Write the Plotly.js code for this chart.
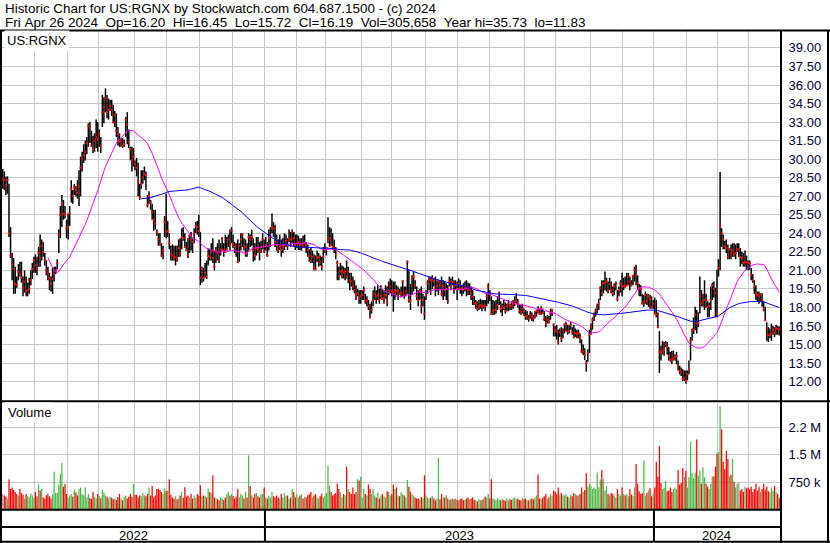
<!DOCTYPE html>
<html><head><meta charset="utf-8">
<script src="https://cdn.plot.ly/plotly-3.0.1.min.js"></script>
<style>html,body{margin:0;padding:0;background:#fff;}#chart{width:830px;height:543px;}</style>
</head><body><div id="chart"></div>
<script>
// ---- data (daily bars) ----
const startDate = '2022-05-02';
const holidays = ['2022-05-30','2022-06-20','2022-07-04','2022-09-05','2022-11-24','2022-12-26',
 '2023-01-02','2023-01-16','2023-02-20','2023-04-07','2023-05-29','2023-06-19','2023-07-04','2023-09-04','2023-11-23','2023-12-25',
 '2024-01-01','2024-01-15','2024-02-19','2024-03-29'];

const closes = [
28.4,28.3,27.8,28.3,24.0,22.2,21.5,21.1,19.9,19.8,
20.9,20.7,20.4,19.6,20.1,19.3,19.4,19.5,20.2,21.1,
21.8,21.4,21.1,22.4,22.0,23.0,22.5,21.8,21.0,20.8,
20.4,19.9,20.3,20.7,21.0,21.6,23.9,25.5,26.4,25.6,
25.5,24.4,24.5,25.6,27.6,27.0,27.7,27.5,27.3,27.8,
29.3,30.0,30.3,30.6,31.3,32.7,32.5,31.1,30.8,31.5,
31.8,31.6,32.0,31.1,33.8,34.2,34.9,33.8,34.0,34.3,
34.0,33.0,33.6,32.3,32.0,31.4,31.5,31.1,31.2,33.2,
32.8,31.4,30.8,29.9,30.2,29.6,29.3,28.2,26.9,28.0,
28.5,28.8,28.7,26.3,27.0,26.5,25.7,25.1,24.8,24.05,
23.5,23.1,22.2,22.6,24.9,24.1,24.2,23.2,22.3,22.2,
22.0,22.1,21.9,22.8,22.4,23.7,23.6,22.9,22.65,22.2,
23.8,23.5,23.3,24.0,24.6,24.5,24.2,20.4,21.1,20.4,
20.8,20.5,22.2,22.1,22.5,22.0,21.3,22.6,22.4,21.8,
22.7,23.6,22.6,22.5,22.7,23.5,23.1,24.2,23.1,22.9,
22.5,21.7,23.0,23.5,23.9,22.8,22.9,22.4,23.7,23.5,
23.7,22.6,22.2,22.8,22.7,22.5,22.9,23.5,22.6,23.05,
22.2,23.6,23.7,24.5,24.4,23.3,23.05,22.7,22.9,22.65,
22.9,23.05,23.4,23.0,23.6,23.5,24.1,23.6,23.05,23.2,
23.3,23.05,23.1,22.95,23.2,23.0,22.65,22.2,21.8,22.1,
21.2,21.1,22.0,22.1,21.7,21.3,22.1,22.6,22.8,23.45,
23.6,23.05,22.9,22.8,22.3,21.6,20.5,20.9,21.0,20.8,
20.9,20.5,20.9,20.2,20.1,19.7,19.4,19.0,19.15,18.7,
18.9,19.0,19.4,18.5,18.6,18.1,17.25,17.8,18.6,19.1,
18.9,19.0,18.6,18.9,18.7,18.75,19.0,18.4,19.4,19.7,
19.3,19.2,19.4,19.3,19.35,19.1,19.2,20.1,19.0,19.3,
21.7,18.6,18.5,20.35,20.5,19.8,18.9,18.6,19.3,18.1,
18.6,17.5,19.0,19.95,20.35,20.2,20.25,20.1,19.5,19.7,
20.1,19.8,19.1,19.7,19.4,19.5,18.5,20.1,19.7,20.05,
19.4,19.8,19.5,19.95,19.55,19.5,19.45,19.7,19.6,19.4,
19.45,19.15,18.9,18.3,18.35,17.9,18.1,18.2,18.05,18.15,
18.1,18.9,19.7,19.15,17.5,17.7,17.8,17.85,18.2,19.15,
17.9,18.1,17.95,17.7,18.1,18.3,18.15,18.1,18.3,18.5,
18.55,18.3,17.7,17.5,17.9,17.7,17.25,17.3,17.1,17.4,
17.25,17.1,17.4,17.7,17.65,17.5,17.9,17.55,17.1,16.7,
17.0,16.85,17.5,17.8,16.6,16.2,16.05,15.2,16.0,15.5,
16.2,16.6,16.7,16.05,16.1,16.6,16.0,15.6,15.9,15.85,
15.9,15.6,14.4,14.45,14.15,13.5,14.3,15.8,16.45,17.0,
17.4,17.7,18.1,18.3,19.55,19.15,19.95,20.0,20.1,19.4,
19.9,19.4,19.15,19.7,19.95,18.7,19.4,19.95,19.7,19.75,
19.7,19.8,20.5,20.1,19.85,20.56,21.05,20.6,19.96,19.55,
19.5,18.3,18.46,19.0,18.5,18.9,18.7,18.05,18.3,17.5,
17.4,16.4,14.4,14.35,14.5,14.65,15.05,14.8,14.1,13.8,
13.7,13.85,14.0,14.05,13.3,12.9,12.75,12.2,12.3,12.05,
12.6,13.0,15.3,16.15,16.2,17.4,16.7,16.75,18.9,18.3,
18.5,18.6,18.55,18.05,18.1,18.6,19.8,19.5,19.14,17.5,
21.2,24.6,24.0,23.5,22.96,22.8,22.1,22.7,22.4,22.6,
22.3,22.4,22.7,22.7,22.1,22.0,21.6,21.7,21.65,21.6,
21.55,20.65,20.2,19.7,19.14,19.0,18.9,19.05,18.6,17.9,
16.96,16.3,15.74,15.8,15.9,16.2,15.95,16.3,16.25,16.19];

const highs = [
29.2,29.0,28.6,28.6,28.0,24.5,22.4,22.0,21.3,20.5,
21.5,21.7,21.7,20.5,21.0,20.5,20.0,20.4,21.0,21.6,
22.1,22.3,22.1,22.9,23.9,23.5,23.3,22.4,21.8,21.3,
20.8,20.5,21.2,21.3,21.3,21.9,24.3,26.2,27.1,26.7,
26.2,25.1,25.6,26.2,28.3,27.5,28.0,27.8,28.3,29.1,
30.2,30.6,31.2,31.5,31.8,32.9,33.0,32.3,31.9,32.1,
33.2,33.0,32.4,31.8,35.2,35.0,35.73,35.2,34.9,34.8,
34.8,34.4,33.9,33.7,32.6,32.1,31.7,31.7,31.6,33.4,
33.8,32.4,31.0,31.0,30.9,29.9,30.1,29.7,28.0,29.1,
29.1,29.4,29.0,27.1,27.4,26.7,26.4,25.9,25.9,24.3,
24.0,24.0,23.2,23.0,25.4,27.2,25.0,24.0,23.0,23.1,
23.0,23.0,23.0,23.5,23.6,24.4,24.5,24.0,23.3,23.6,
23.9,24.1,23.6,24.4,24.9,25.0,25.5,24.1,21.3,21.2,
21.6,21.8,22.7,22.7,23.2,23.6,22.6,22.9,23.2,23.5,
23.2,23.7,23.2,23.9,23.7,23.9,24.3,24.5,23.9,23.3,
23.2,23.5,23.2,24.0,24.0,23.6,23.5,23.2,24.0,23.9,
24.3,23.6,23.2,23.7,23.7,23.3,23.4,24.0,23.5,23.7,
23.3,24.3,24.5,25.6,24.9,24.7,23.9,23.5,23.9,23.5,
23.6,24.0,23.9,23.6,24.3,24.1,24.3,24.1,23.9,23.9,
23.8,23.6,23.6,23.8,23.9,23.3,23.1,22.7,22.8,22.6,
22.3,22.2,22.6,22.4,22.2,22.1,22.9,23.2,22.9,25.3,
24.5,24.4,24.0,23.5,22.9,21.8,21.3,21.6,21.4,21.3,
21.2,21.8,21.3,20.8,20.8,20.5,20.2,19.8,19.5,19.4,
19.4,19.4,19.7,19.1,18.9,18.6,18.3,18.5,19.4,19.7,
19.4,19.8,19.5,19.8,19.5,19.4,19.8,19.7,20.1,20.35,
20.2,20.1,20.1,19.8,19.7,19.5,19.7,20.2,19.7,19.7,
21.8,21.0,19.9,20.6,20.9,20.2,19.7,19.4,19.5,19.7,
19.1,18.9,19.4,20.2,20.5,20.5,20.6,20.35,20.5,20.2,
20.2,20.2,20.5,20.2,20.1,19.95,19.8,20.5,20.35,20.5,
20.2,20.2,20.1,20.35,20.2,19.8,19.95,20.1,20.2,20.0,
19.95,19.7,19.4,18.9,18.6,18.5,18.6,18.7,18.6,18.6,
18.6,19.15,19.95,19.4,18.9,18.6,18.5,18.6,18.9,19.3,
18.5,18.3,18.6,18.4,18.3,18.6,18.3,18.5,18.6,18.9,
19.15,18.7,18.3,18.2,18.3,17.9,17.8,17.7,17.4,17.7,
17.6,17.4,17.7,17.8,18.1,17.9,18.1,17.9,17.7,17.3,
17.4,17.3,17.9,17.9,16.7,16.5,16.6,16.2,16.3,16.4,
16.3,16.7,16.85,16.6,16.6,16.85,16.4,16.6,16.3,16.2,
16.2,15.9,15.4,15.0,14.7,13.75,14.6,16.2,16.7,17.2,
17.6,17.9,18.3,18.7,19.7,20.2,20.2,20.9,20.4,20.1,
20.4,20.1,19.7,19.95,20.1,19.4,19.7,20.2,20.8,20.4,
20.5,20.8,20.8,20.5,20.2,20.6,21.3,21.46,20.6,19.9,
19.8,19.1,19.0,19.3,19.1,19.1,19.0,18.9,18.6,18.8,
18.6,17.6,16.1,14.9,15.3,15.2,15.3,15.2,14.8,14.4,
14.5,14.5,14.2,14.4,13.7,13.3,13.15,13.0,12.9,12.9,
12.9,13.7,15.6,16.3,17.2,18.05,17.8,17.6,20.5,19.4,
19.1,20.2,19.1,18.5,18.4,19.7,20.0,20.1,19.6,21.05,
21.9,28.96,24.4,23.9,23.4,23.5,23.1,22.8,23.1,23.2,
23.2,23.1,23.2,23.2,22.8,22.5,22.4,22.6,22.2,21.8,
21.8,21.2,20.7,20.2,19.8,19.3,19.3,19.14,19.14,18.5,
18.05,16.8,16.4,16.3,16.7,16.5,16.4,16.6,16.5,16.45];

const lows = [
27.6,27.5,27.1,27.2,23.7,22.0,20.2,19.1,19.1,19.6,
20.2,20.5,20.0,18.9,19.2,18.9,18.9,19.1,19.8,20.3,
20.8,20.8,20.6,21.3,21.3,21.8,22.1,21.4,20.6,20.2,
19.4,19.3,19.1,20.1,20.7,21.1,22.4,23.6,24.5,25.1,
25.2,23.6,23.5,24.6,26.5,26.4,27.1,27.0,26.8,26.2,
27.0,29.0,29.7,29.9,30.4,31.0,31.3,31.0,30.5,30.6,
30.9,30.6,31.0,30.5,32.6,32.9,33.8,33.3,33.2,33.9,
33.5,32.9,32.6,31.8,31.1,31.0,31.0,30.9,31.0,31.8,
31.2,30.9,29.9,29.0,29.4,29.1,28.6,27.0,26.7,27.6,
28.0,28.3,27.5,26.1,26.4,25.9,25.1,24.2,24.3,23.8,
23.0,23.0,22.1,21.9,23.7,23.6,23.7,22.7,21.8,21.8,
21.8,21.4,21.7,22.1,22.1,22.7,23.4,22.8,22.6,22.0,
22.4,22.6,22.4,23.2,24.0,23.9,23.7,19.8,20.0,20.1,
20.4,20.3,21.4,21.8,21.8,21.6,21.0,21.6,21.8,21.6,
22.2,22.6,22.1,22.4,22.6,22.9,22.6,23.2,22.8,22.4,
22.1,21.6,21.7,22.6,22.9,22.6,22.1,22.1,22.6,22.9,
23.0,21.7,21.8,22.2,22.4,21.8,22.4,22.7,22.4,22.6,
22.1,22.6,22.9,24.0,23.7,22.9,22.6,22.4,22.65,22.1,
22.4,22.65,22.9,22.65,23.3,22.9,23.2,22.9,22.65,22.8,
22.65,22.65,22.6,22.8,22.8,22.4,22.1,21.7,21.6,21.6,
21.0,21.0,21.7,21.3,21.4,21.0,21.6,22.4,22.2,23.2,
22.9,23.0,22.65,22.4,21.9,20.2,20.2,20.6,20.35,20.35,
20.2,20.35,19.95,19.4,19.7,19.4,19.15,18.6,18.9,18.3,
18.3,18.6,18.6,18.3,18.1,17.8,17.1,17.5,18.1,18.6,
18.3,18.6,18.3,18.7,18.6,18.3,18.7,18.1,19.0,19.1,
18.9,17.65,18.6,18.9,18.6,19.0,18.8,18.9,18.7,18.9,
19.1,18.4,17.8,19.0,19.3,19.5,18.6,18.1,18.6,17.5,
18.1,17.0,18.6,19.1,19.4,19.0,19.5,19.7,18.9,19.3,
19.0,19.4,18.9,18.6,18.9,18.6,18.3,19.7,19.4,19.8,
19.1,19.4,18.6,19.4,19.1,18.9,19.1,19.3,18.9,19.0,
19.0,18.6,18.2,18.2,17.9,17.7,17.8,17.9,17.7,17.9,
17.7,18.1,18.3,18.5,17.4,17.4,17.4,17.5,17.8,18.2,
17.6,17.3,17.8,17.5,17.7,17.7,17.8,17.8,17.9,18.1,
18.3,18.0,17.5,17.4,17.5,17.3,17.0,17.0,16.85,17.1,
16.9,16.85,17.1,17.25,17.5,17.4,17.4,17.5,16.9,16.4,
16.7,16.7,17.0,17.3,15.65,15.65,15.4,15.0,15.6,15.2,
15.5,15.9,16.05,15.8,15.9,16.2,15.8,15.5,15.6,15.5,
15.5,15.1,14.3,14.15,13.75,12.8,13.6,14.3,15.8,16.2,
16.9,17.25,17.5,17.8,18.6,18.9,19.15,19.4,19.3,19.15,
19.4,19.15,18.9,19.0,19.4,18.5,18.9,19.2,18.9,19.4,
19.6,19.7,19.8,19.4,19.7,19.8,20.1,19.8,19.4,18.9,
18.9,18.3,18.05,18.3,18.2,18.05,17.9,17.9,17.9,17.5,
17.2,16.4,12.7,13.7,14.2,14.1,14.8,14.2,13.7,13.6,
13.4,13.7,13.7,13.4,12.9,12.6,12.46,12.05,12.05,11.83,
12.1,12.6,13.7,15.3,15.85,16.15,15.9,16.4,17.5,18.1,
18.05,17.8,18.0,17.2,17.2,17.8,18.6,18.8,17.2,17.2,
20.5,21.0,22.9,22.7,22.7,22.4,21.9,21.9,21.9,22.1,
22.1,21.9,22.5,22.1,21.3,21.5,21.3,21.3,21.05,21.0,
21.05,20.2,20.0,19.1,18.6,18.5,18.3,18.46,18.05,17.7,
16.9,15.3,15.2,15.5,15.3,15.8,15.6,15.8,15.8,15.72];

// volume in thousands of shares
const volumesK = [
420,380,350,300,823,560,600,530,480,420,
380,560,450,400,300,420,360,330,440,380,
320,480,360,684,516,560,330,300,390,420,
360,300,410,1029,450,450,684,963,1270,620,
693,420,330,380,420,350,540,470,380,560,
600,420,380,600,330,420,310,290,480,350,
300,420,360,310,540,470,380,350,300,340,
320,280,300,260,340,420,300,250,330,380,
300,350,420,350,693,400,400,330,380,360,
450,380,360,420,600,380,638,330,380,560,
560,530,480,420,572,500,520,823,400,330,
300,360,280,300,380,480,320,608,350,380,
330,420,300,380,320,420,380,660,340,380,
360,330,572,480,450,934,330,300,280,250,
330,300,260,330,420,480,380,420,360,300,
350,560,330,420,380,300,480,330,1473,638,
380,330,420,450,360,330,420,420,600,330,
300,380,330,480,360,330,380,330,300,420,
330,450,360,380,300,330,560,480,330,420,
330,380,420,300,350,330,380,420,480,330,
380,420,330,300,360,430,330,380,450,1194,
648,480,380,420,450,700,560,480,330,420,
380,1166,560,480,420,600,420,480,823,790,
897,330,560,420,380,684,560,420,560,380,
330,450,300,380,420,360,330,500,480,380,
420,684,560,600,380,360,480,420,380,330,
804,620,480,420,380,330,300,300,280,340,
300,934,380,330,300,320,360,300,250,300,
1409,280,420,330,330,380,300,250,280,300,
280,300,260,250,280,300,250,260,300,330,
280,300,330,250,260,220,280,250,260,300,
350,330,420,300,823,300,280,250,300,270,
250,300,260,240,300,250,280,260,300,330,
280,300,260,250,330,280,300,260,250,290,
300,280,330,380,962,300,280,330,360,420,
300,330,420,380,520,480,420,600,380,450,
400,380,420,350,330,400,360,450,420,380,
380,420,600,480,530,990,620,700,632,560,
600,560,1010,600,820,1076,823,520,642,420,
380,450,420,380,330,560,420,380,600,420,
380,420,360,550,400,380,600,1241,700,500,
420,450,1334,380,460,520,580,360,420,600,
1306,900,1735,720,560,600,780,500,520,600,
480,560,600,560,1080,680,720,1130,880,1050,
600,880,1847,1000,850,1000,1911,920,1055,700,
1150,880,700,620,560,700,900,900,1166,1520,
1570,2823,2190,1300,1100,1595,1381,900,950,1381,
760,600,700,730,520,560,480,620,580,600,
550,620,480,560,700,520,620,480,560,700,
540,620,500,480,600,520,640,480,420,306];

const priceTicks = [12,13.5,15,16.5,18,19.5,21,22.5,24,25.5,27,28.5,30,31.5,33,34.5,36,37.5,39];
const volTicks = [750000,1500000,2250000];
const volTickText = ['750 k','1.5 M','2.2 M'];
const maShortLen = 30, maLongLen = 90;
const headerLine1 = 'Historic Chart for US:RGNX by Stockwatch.com 604.687.1500 - (c) 2024';
const headerLine2 = 'Fri Apr 26 2024  Op=16.20  Hi=16.45  Lo=15.72  Cl=16.19  Vol=305,658  Year hi=35.73  lo=11.83';
const symbolLabel = 'US:RGNX';
const volumeLabel = 'Volume';

// ---- derived ----
const N = closes.length;
const dates = [];
{
  let t = Date.parse(startDate + 'T00:00:00Z');
  while (dates.length < N) {
    const d = new Date(t);
    const dow = d.getUTCDay();
    const s = d.toISOString().slice(0, 10);
    if (dow !== 0 && dow !== 6 && !holidays.includes(s)) dates.push(s);
    t += 86400000;
  }
}
const idx = closes.map((_, i) => i);
const monthTicks = [];
const yearBounds = [-0.5];
const yearNames = [dates[0].slice(0, 4)];
for (let i = 0; i < N; i++) {
  if (i === 0 || dates[i].slice(0, 7) !== dates[i - 1].slice(0, 7)) monthTicks.push(i - 0.5);
  if (i > 0 && dates[i].slice(0, 4) !== dates[i - 1].slice(0, 4)) { yearBounds.push(i - 0.5); yearNames.push(dates[i].slice(0, 4)); }
}
yearBounds.push(N - 0.5);

function sma(n) {
  return closes.map((_, i) => {
    if (i < n - 1) return null;
    let s = 0; for (let k = i - n + 1; k <= i; k++) s += closes[k];
    return s / n;
  });
}
const hx = [], hy = [];
idx.forEach(i => { hx.push(i, i, null); hy.push(lows[i], highs[i], null); });
const volumes = volumesK.map(v => v * 1000);
const volColors = closes.map((c, i) => i === 0 ? '#a0a0a0' : (c > closes[i - 1] ? '#4db848' : (c < closes[i - 1] ? '#ff0000' : '#a0a0a0')));

// ---- geometry helpers (pixels -> paper) ----
const W = 830, H = 543;
const px = x => x / W, py = y => 1 - y / H;
const FONT = 'Liberation Sans, Arial, sans-serif';
const gridC = '#c8c8c8';

const traces = [
  {type: 'bar', x: idx, y: volumes, xaxis: 'x2', yaxis: 'y2', marker: {color: volColors, line: {width: 0}}, hoverinfo: 'skip'},
  {type: 'scatter', mode: 'lines', x: hx, y: hy, xaxis: 'x', yaxis: 'y', line: {color: '#000', width: 1.5}, connectgaps: false, hoverinfo: 'skip'},
  {type: 'scatter', mode: 'markers', x: idx, y: closes, xaxis: 'x', yaxis: 'y', marker: {symbol: 'square', size: 2, color: '#ff0000', line: {width: 0}}, hoverinfo: 'skip'},
  {type: 'scatter', mode: 'lines', x: idx, y: sma(maShortLen), xaxis: 'x', yaxis: 'y', line: {color: '#ff00ff', width: 1}, hoverinfo: 'skip'},
  {type: 'scatter', mode: 'lines', x: idx, y: sma(maLongLen), xaxis: 'x', yaxis: 'y', line: {color: '#0000ff', width: 1}, hoverinfo: 'skip'}
];

const xBase = {range: [-0.5, N - 0.5], tickmode: 'array', tickvals: monthTicks, showticklabels: false, ticks: '',
  showgrid: true, gridcolor: gridC, gridwidth: 1, zeroline: false, showline: false, fixedrange: true};
const yTickFont = {family: FONT, size: 13, color: '#000033'};

const lineShape = (x0, y0, x1, y1, w) => ({type: 'line', xref: 'paper', yref: 'paper', x0: px(x0), y0: py(y0), x1: px(x1), y1: py(y1), line: {color: '#000', width: w || 2}});
const shapes = [
  lineShape(0, 30.5, 830, 30.5),
  lineShape(1, 30, 1, 543),
  lineShape(828, 30, 828, 543),
  lineShape(0, 541.8, 830, 541.8),
  lineShape(781, 30, 781, 543),
  lineShape(0, 401.3, 830, 401.3),
  lineShape(0, 509.8, 781, 509.8),
  lineShape(0, 527, 781, 527)
];
yearBounds.slice(1, -1).forEach(b => shapes.push({type: 'line', xref: 'x2', yref: 'paper', x0: b, x1: b, y0: py(509.8), y1: py(542), line: {color: '#000', width: 2}}));

const nb = s => s.replace(/ /g, '\u00a0');
const annotations = [
  {xref: 'paper', yref: 'paper', x: px(3), y: py(8.4), xanchor: 'left', yanchor: 'middle', text: nb(headerLine1), showarrow: false, font: {family: FONT, size: 13.4, color: '#000'}},
  {xref: 'paper', yref: 'paper', x: px(3), y: py(22.7), xanchor: 'left', yanchor: 'middle', text: nb(headerLine2), showarrow: false, font: {family: FONT, size: 13.5, color: '#000'}},
  {xref: 'paper', yref: 'paper', x: px(4), y: py(40), xanchor: 'left', yanchor: 'middle', text: symbolLabel, showarrow: false, bgcolor: '#fff', borderpad: 2, font: {family: FONT, size: 13, color: '#000'}},
  {xref: 'paper', yref: 'paper', x: px(5), y: py(413), xanchor: 'left', yanchor: 'middle', text: volumeLabel, showarrow: false, bgcolor: '#fff', borderpad: 2, font: {family: FONT, size: 13, color: '#000'}}
];
yearNames.forEach((yn, k) => annotations.push({xref: 'x2', yref: 'paper', x: (yearBounds[k] + yearBounds[k + 1]) / 2, y: py(535), xanchor: 'center', yanchor: 'middle', text: yn, showarrow: false, font: {family: FONT, size: 13, color: '#000'}}));

const layout = {
  width: W, height: H, margin: {l: 0, r: 0, t: 0, b: 0, pad: 0},
  paper_bgcolor: '#fff', plot_bgcolor: '#fff', showlegend: false,
  font: {family: FONT, size: 13, color: '#000'},
  bargap: 0.2,
  xaxis: Object.assign({}, xBase, {domain: [px(2), px(780)], anchor: 'y'}),
  xaxis2: Object.assign({}, xBase, {domain: [px(2), px(780)], anchor: 'y2'}),
  yaxis: {domain: [py(400), py(31)], range: [10.51, 40.37], side: 'right', anchor: 'x', tickmode: 'array', tickvals: priceTicks,
    tickformat: '.2f', ticks: 'outside', ticklen: 5, tickcolor: 'rgba(0,0,0,0)', showgrid: true, gridcolor: gridC, gridwidth: 1,
    zeroline: false, showline: false, tickfont: yTickFont, fixedrange: true},
  yaxis2: {domain: [py(509.5), py(402.5)], range: [0, 2.92e6], side: 'right', anchor: 'x2', tickmode: 'array', tickvals: volTicks,
    ticktext: volTickText, ticks: 'outside', ticklen: 5, tickcolor: 'rgba(0,0,0,0)', showgrid: true, gridcolor: gridC, gridwidth: 1,
    zeroline: false, showline: false, tickfont: yTickFont, fixedrange: true},
  shapes: shapes,
  annotations: annotations
};

Plotly.newPlot('chart', traces, layout, {staticPlot: true, displayModeBar: false});
</script>
</body></html>
